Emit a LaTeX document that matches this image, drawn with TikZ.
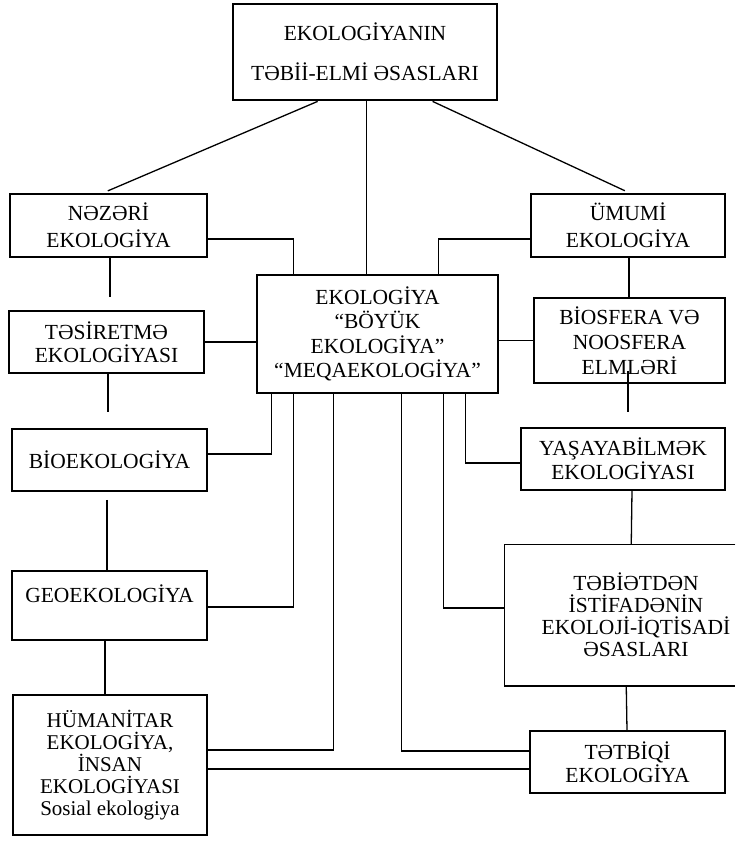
\documentclass[tikz,border=0pt]{standalone}
\usepackage{fontspec}
\setmainfont{Liberation Serif}
\usetikzlibrary{calc}

\begin{document}
\begin{tikzpicture}[x=1pt,y=-1pt,
  box/.style={draw=black, line width=1.5pt, rectangle, inner sep=0pt,
    align=center, font=\fontsize{21.5}{24}\selectfont},
  mainbox/.style={box, line width=2.8pt},
  link/.style={draw=black, line width=1.3pt},
  line join=miter]

\useasboundingbox (0,0) rectangle (736,844);

% central and top blocks
\node[mainbox, minimum width=264pt, minimum height=96pt] (top) at (365,52)
  {EKOLOGİYANIN\\[16pt]TƏBİİ-ELMİ ƏSASLARI};
\node[mainbox, minimum width=241pt, minimum height=118pt,
  font=\fontsize{21.5}{24.5}\selectfont] (main) at (377.5,334)
  {EKOLOGİYA\\“BÖYÜK\\EKOLOGİYA”\\“MEQAEKOLOGİYA”};

% left column
\node[box, minimum width=197pt, minimum height=63pt,
  font=\fontsize{21.5}{27}\selectfont] (nez) at (108.5,225.5) {NƏZƏRİ\\EKOLOGİYA};
\node[box, minimum width=195pt, minimum height=62pt,
  font=\fontsize{21.5}{23}\selectfont] (tes) at (106.5,342) {TƏSİRETMƏ\\EKOLOGİYASI};
\node[box, minimum width=195pt, minimum height=62pt] (bioek) at (109.5,460) {BİOEKOLOGİYA};
\node[box, minimum width=195pt, minimum height=69pt] (geo) at (109.5,605.5)
  {GEOEKOLOGİYA\\[0pt]\mbox{}};
\node[box, minimum width=194pt, minimum height=140pt,
  font=\fontsize{21}{22}\selectfont] (hum) at (110,765)
  {HÜMANİTAR\\EKOLOGİYA,\\İNSAN\\EKOLOGİYASI\\Sosial ekologiya};

% right column
\node[box, minimum width=194pt, minimum height=63pt,
  font=\fontsize{21.5}{27}\selectfont] (umu) at (628,225.5) {ÜMUMİ\\EKOLOGİYA};
\node[box, minimum width=191pt, minimum height=85pt,
  font=\fontsize{21.5}{25}\selectfont] (bios) at (629.5,340.5)
  {BİOSFERA VƏ\\NOOSFERA\\ELMLƏRİ};
\node[box, minimum width=204pt, minimum height=62pt] (yas) at (623,459)
  {YAŞAYABİLMƏK\\EKOLOGİYASI};
\node[box, draw=none, minimum width=262pt, minimum height=140pt,
  font=\fontsize{21.5}{22}\selectfont] (teb) at (636,615)
  {TƏBİƏTDƏN\\İSTİFADƏNİN\\EKOLOJİ-İQTİSADİ\\ƏSASLARI};
\draw[line width=1.5pt] ($(teb.north west)+(231,0)$) -- (teb.north west)
  -- (teb.south west) -- ++(231,0);
\node[box, minimum width=195pt, minimum height=62pt,
  font=\fontsize{21.5}{23}\selectfont] (tet) at (627.5,762) {TƏTBİQİ\\EKOLOGİYA};

% links from the top block
\draw[link, shorten >=6pt] ($(top.south west)+(86,0)$) -- ($(nez.north west)+(93,0)$);
\draw[link, shorten >=6pt] ($(top.south west)+(201,0)$) -- ($(umu.north west)+(100,0)$);
\draw[link] ($(top.south west)+(135,0)$) -- ($(main.north west)+(111,0)$);

% links into the central block from above and the sides
\draw[link] ($(nez.east)+(0,13.5)$) -| ($(main.north west)+(38,0)$);
\draw[link] ($(umu.west)+(0,13.5)$) -| ($(main.north west)+(183,0)$);
\draw[link] (tes.east) -- (tes.east -| main.west);
\draw[link] (bios.west) -- (bios.west -| main.east);

% links out of the central block below
\draw[link] ($(bioek.east)+(0,-6)$) -| ($(main.south west)+(16,0)$);
\draw[link] ($(main.south west)+(38,0)$) |- ($(geo.east)+(0,1.5)$);
\draw[link] ($(main.south west)+(78,0)$) |- ($(hum.east)+(0,-15)$);
\draw[link] ($(main.south west)+(146,0)$) |- ($(tet.west)+(0,-11)$);
\draw[link] ($(main.south west)+(188,0)$) |- ($(teb.west)+(0,-7)$);
\draw[link] ($(main.south west)+(210,0)$) |- ($(yas.west)+(0,4)$);

% left column chain
\draw[link, shorten >=13pt] ($(nez.south)+(1.5,0)$) -- ($(tes.north)+(3.5,0)$);
\draw[link, shorten >=16pt] ($(tes.south)+(1.5,0)$) -- ($(bioek.north)+(-1.5,0)$);
\draw[link, shorten <=8pt] ($(bioek.south)+(-2.5,0)$) -- ($(geo.north)+(-2.5,0)$);
\draw[link] ($(geo.south)+(-4.5,0)$) -- ($(hum.north)+(-5,0)$);

% right column chain
\draw[link] ($(umu.south)+(1,0)$) -- ($(bios.north)+(-0.5,0)$);
\draw[link, shorten <=-13pt, shorten >=15pt] ($(bios.south)+(-1.5,0)$) -- ($(yas.north)+(5,0)$);
\draw[link] ($(yas.south)+(9,0)$) -- ($(teb.north west)+(127,0)$);
\draw[link] ($(teb.south west)+(122,0)$) -- ($(tet.north)+(-0.5,0)$);

% bottom cross link
\draw[link] ($(hum.east)+(0,4)$) -- ($(tet.west)+(0,7)$);

\end{tikzpicture}
\end{document}
